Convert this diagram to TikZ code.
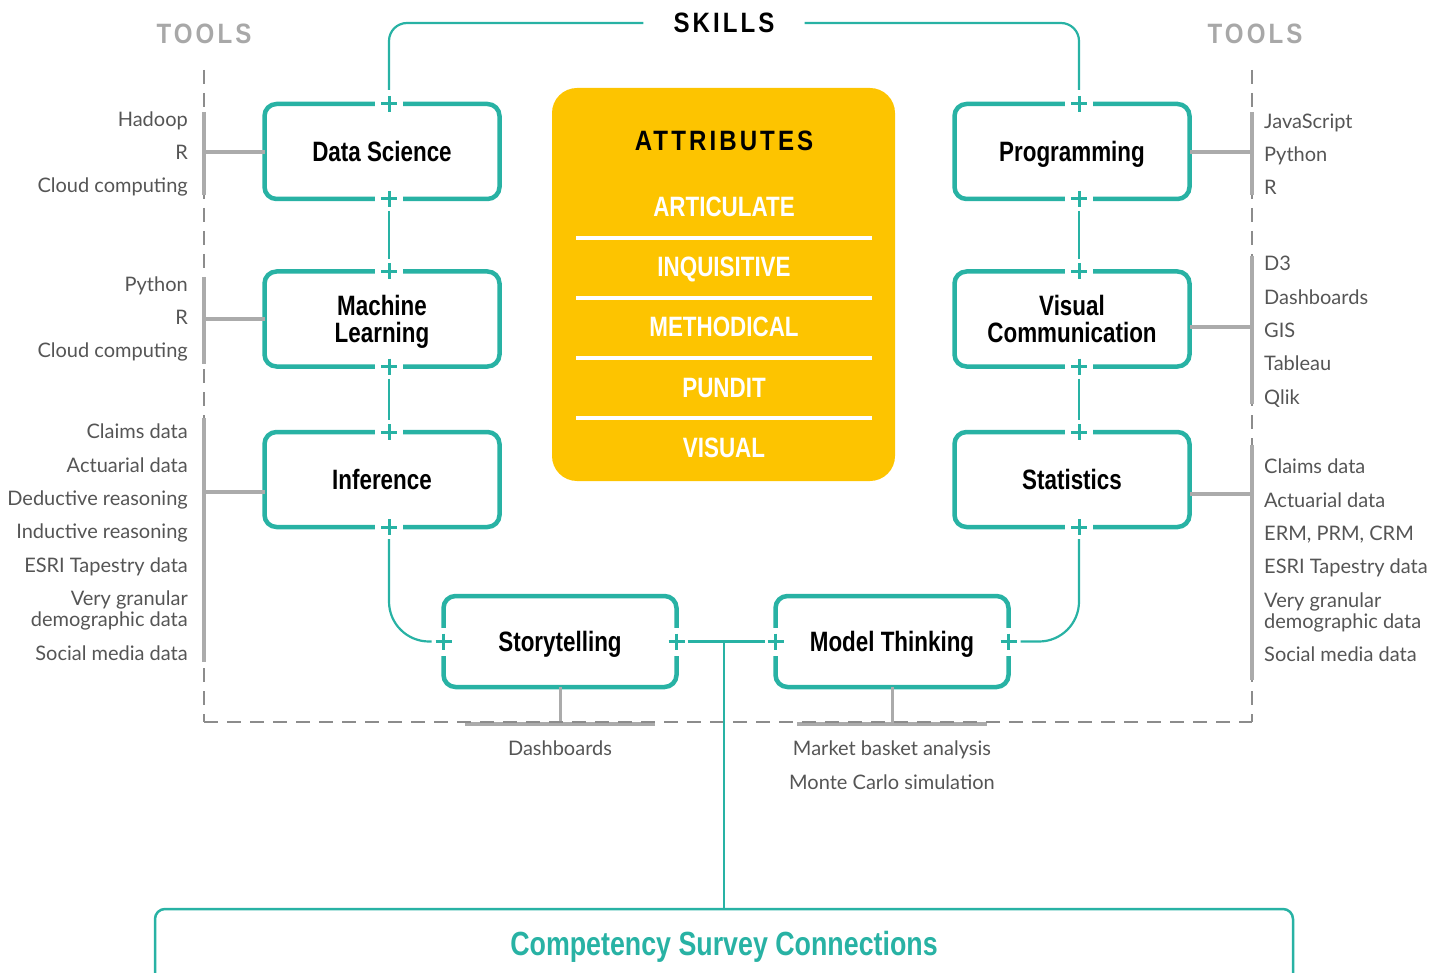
\documentclass[tikz,border=0pt]{standalone}
\usepackage{fontspec}
\setmainfont{Lato}
\newfontfamily\cnd[FakeStretch=0.8]{Liberation Sans}
\newfontfamily\spc[FakeStretch=0.86,LetterSpace=11]{Liberation Sans}
\newfontfamily\tlf{Lato}
\usetikzlibrary{calc}
\definecolor{tealc}{HTML}{28B2A4}
\definecolor{yellowc}{HTML}{FDC400}
\definecolor{brgray}{HTML}{ABABAB}
\definecolor{dgray}{HTML}{8C8C8C}
\definecolor{tgray}{HTML}{555555}
\definecolor{hgray}{HTML}{A8A8A8}
\newcommand\tplus[1]{\fill[white] ($(#1)+(-14,-6)$) rectangle ($(#1)+(14,6)$);
  \draw[plusln] ($(#1)+(-8,0)$) -- ($(#1)+(8,0)$) ($(#1)+(0,-8)$) -- ($(#1)+(0,8)$);}
\newcommand\splus[1]{\fill[white] ($(#1)+(-6,-14)$) rectangle ($(#1)+(6,14)$);
  \draw[plusln] ($(#1)+(-8,0)$) -- ($(#1)+(8,0)$) ($(#1)+(0,-8)$) -- ($(#1)+(0,8)$);}
\begin{document}
\begin{tikzpicture}[x=1pt,y=-1pt,
  skillbox/.style={draw=tealc, line width=4.5pt, rounded corners=12pt, fill=white,
    minimum width=235pt, minimum height=95pt, outer sep=0pt, inner sep=0pt,
    font=\cnd\bfseries\fontsize{28}{27}\selectfont, align=center,
    text height=20pt, text depth=0pt},
  twoline/.style={text height=47pt},
  conn/.style={draw=tealc, line width=2.2pt},
  plusln/.style={draw=tealc, line width=3pt},
  bracket/.style={draw=brgray, line width=4pt},
  dashln/.style={draw=dgray, line width=1.3pt, dash pattern=on 14pt off 9pt},
  tooltxt/.style={font=\tlf\fontsize{20}{21}\selectfont, text=tgray, inner sep=0pt},
  ltool/.style={tooltxt, anchor=base east},
  rtool/.style={tooltxt, anchor=base west},
  attrtxt/.style={font=\cnd\bfseries\fontsize{28}{27}\selectfont, text=white,
    inner sep=0pt, text height=20pt, text depth=0pt},
  head/.style={font=\spc\bfseries\fontsize{28}{30}\selectfont, inner sep=0pt}
]
\useasboundingbox (0,0) rectangle (1447,973);
\begin{scope}
\clip (0,0) rectangle (1447,973);

% dashed tools frame
\draw[dashln] (204,70) -- (204,722);
\draw[dashln] (1252,70) -- (1252,722);
\draw[dashln] (204,722) -- (1252,722);

% headings
\node[head, text=hgray] (tl) at (204,34) {TOOLS};
\node[head, text=hgray] (tr) at (1255,34) {TOOLS};
\node[head, inner xsep=30pt] (skills) at (724,23) {SKILLS};

% skill boxes
\node[skillbox] (ds) at (382,151.5) {Data Science};
\node[skillbox, twoline] (ml) at (382,319) {Machine\\Learning};
\node[skillbox] (inf) at (382,479.5) {Inference};
\node[skillbox] (prog) at (1072,151.5) {Programming};
\node[skillbox, twoline] (vis) at (1072,319) {Visual\\Communication};
\node[skillbox] (stat) at (1072,479.5) {Statistics};
\node[skillbox, minimum width=233pt, minimum height=91pt] (story) at (560,641.5) {Storytelling};
\node[skillbox, minimum width=233pt, minimum height=91pt] (model) at (892,641.5) {Model Thinking};

% brackets
\coordinate (b1) at (204,152); \coordinate (b2) at (204,319); \coordinate (b3) at (204,492);
\coordinate (b4) at (1252,152); \coordinate (b5) at (1252,327); \coordinate (b6) at (1252,494);
\coordinate (bb) at (0,724);
\draw[bracket] (204,112) -- (204,195);
\draw[bracket] (204,277) -- (204,364);
\draw[bracket] (204,418) -- (204,662);
\draw[bracket] (1252,112) -- (1252,195);
\draw[bracket] (1252,256) -- (1252,404);
\draw[bracket] (1252,445) -- (1252,680);
\draw[bracket] (b1) -- (b1 -| ds.west);
\draw[bracket] (b2) -- (b2 -| ml.west);
\draw[bracket] (b3) -- (b3 -| inf.west);
\draw[bracket] (b4) -- (b4 -| prog.east);
\draw[bracket] (b5) -- (b5 -| vis.east);
\draw[bracket] (b6) -- (b6 -| stat.east);
\draw[bracket, line width=3pt] (story.south) -- (story.south |- bb);
\draw[bracket, line width=3pt] (model.south) -- (model.south |- bb);
\draw[bracket] (465,724) -- (655,724);
\draw[bracket] (797,724) -- (987,724);
\draw[dashln] (204,722) -- (1252,722);

% plus points
\path (ds.north) ++(7,0) coordinate (dsT); \path (ds.south) ++(7,0) coordinate (dsB);
\path (ml.north) ++(7,0) coordinate (mlT); \path (ml.south) ++(7,0) coordinate (mlB);
\path (inf.north) ++(7,0) coordinate (infT); \path (inf.south) ++(7,0) coordinate (infB);
\path (prog.north) ++(7,0) coordinate (progT); \path (prog.south) ++(7,0) coordinate (progB);
\path (vis.north) ++(7,0) coordinate (visT); \path (vis.south) ++(7,0) coordinate (visB);
\path (stat.north) ++(7,0) coordinate (statT); \path (stat.south) ++(7,0) coordinate (statB);
\coordinate (stL) at (story.west); \coordinate (stR) at (story.east);
\coordinate (mtL) at (model.west); \coordinate (mtR) at (model.east);
\foreach \p in {dsT,dsB,mlT,mlB,infT,infB,progT,progB,visT,visB,statT,statB} {\tplus{\p}}
\foreach \p in {stL,stR,mtL,mtR} {\splus{\p}}

% connectors
\draw[conn, rounded corners=18pt, shorten >=14pt] (skills.west) -| (dsT);
\draw[conn, rounded corners=18pt, shorten >=14pt] (skills.east) -| (progT);
\draw[conn, shorten <=12pt, shorten >=12pt] (dsB) -- (mlT);
\draw[conn, shorten <=12pt, shorten >=12pt] (mlB) -- (infT);
\draw[conn, shorten <=12pt, shorten >=12pt] (progB) -- (visT);
\draw[conn, shorten <=12pt, shorten >=12pt] (visB) -- (statT);
\draw[conn, rounded corners=40pt, shorten <=12pt, shorten >=12pt] (infB) |- (stL);
\draw[conn, rounded corners=40pt, shorten <=12pt, shorten >=12pt] (statB) |- (mtR);
\draw[conn, shorten <=11pt, shorten >=11pt] (stR) -- (mtL);

% competency box
\node[draw=tealc, line width=2.5pt, rounded corners=10pt, minimum width=1138pt,
  minimum height=160pt, outer sep=0pt] (compbox) at (724,989) {};
\node[font=\cnd\bfseries\fontsize{33.5}{35}\selectfont, text=tealc, inner sep=0pt,
  text height=24pt, text depth=0pt] (comp) at (724,943) {Competency Survey Connections};
\coordinate (jn) at (724,641.5);
\draw[conn] (jn) -- (jn |- compbox.north);

% attributes
\node[fill=yellowc, rounded corners=25pt, minimum width=343pt, minimum height=393pt,
  inner sep=0pt] (attr) at (723.5,284.5) {};
\foreach \yy in {238,298,358,418} {\draw[white, line width=4pt] (576,\yy) -- (872,\yy);}
\node[head] (attrh) at (724,141) {ATTRIBUTES};
\node[attrtxt] (a1) at (724,207) {ARTICULATE};
\node[attrtxt] (a2) at (724,267) {INQUISITIVE};
\node[attrtxt] (a3) at (724,327) {METHODICAL};
\node[attrtxt] (a4) at (724,387) {PUNDIT};
\node[attrtxt] (a5) at (724,447) {VISUAL};

% left tools
\node[ltool] (l1) at (188,126.5) {Hadoop};
\node[ltool] (l2) at (188,159.5) {R};
\node[ltool] (l3) at (188,192.5) {Cloud computing};
\node[ltool] (l4) at (188,291.5) {Python};
\node[ltool] (l5) at (188,324.5) {R};
\node[ltool] (l6) at (188,357.5) {Cloud computing};
\node[ltool] (l7) at (188,438.5) {Claims data};
\node[ltool] (l8) at (188,472.5) {Actuarial data};
\node[ltool] (l9) at (188,505.5) {Deductive reasoning};
\node[ltool] (l10) at (188,538.5) {Inductive reasoning};
\node[ltool] (l11) at (188,572.5) {ESRI Tapestry data};
\node[tooltxt, anchor=north east, align=right] (l12) at (188,591) {Very granular\\demographic data};
\node[ltool] (l13) at (188,660.5) {Social media data};

% right tools
\node[rtool] (r1) at (1264,128.5) {JavaScript};
\node[rtool] (r2) at (1264,161.5) {Python};
\node[rtool] (r3) at (1264,194.5) {R};
\node[rtool] (r4) at (1264,270.5) {D3};
\node[rtool] (r5) at (1264,304.5) {Dashboards};
\node[rtool] (r6) at (1264,337.5) {GIS};
\node[rtool] (r7) at (1264,370.5) {Tableau};
\node[rtool] (r8) at (1264,404.5) {Qlik};
\node[rtool] (r9) at (1264,473.5) {Claims data};
\node[rtool] (r10) at (1264,507.5) {Actuarial data};
\node[rtool] (r11) at (1264,540.5) {ERM, PRM, CRM};
\node[rtool] (r12) at (1264,573.5) {ESRI Tapestry data};
\node[tooltxt, anchor=north west, align=left] (r13) at (1264,593) {Very granular\\demographic data};
\node[rtool] (r14) at (1264,661.5) {Social media data};

% bottom tools
\node[tooltxt, anchor=base] (bt1) at (560,755.5) {Dashboards};
\node[tooltxt, anchor=base] (bt2) at (892,755.5) {Market basket analysis};
\node[tooltxt, anchor=base] (bt3) at (892,789.5) {Monte Carlo simulation};
\end{scope}
\end{tikzpicture}
\end{document}
